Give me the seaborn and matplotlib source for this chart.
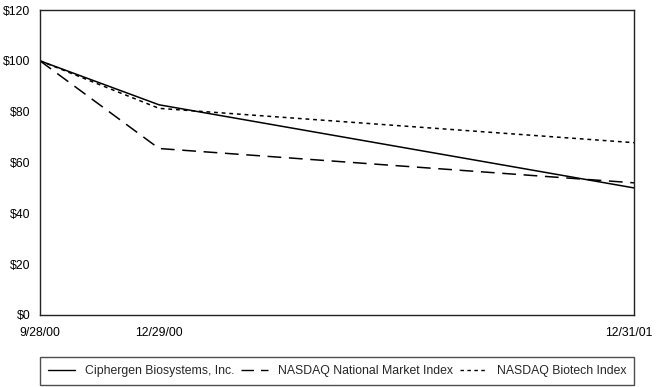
import pandas as pd
import matplotlib.pyplot as plt
import matplotlib.transforms as mtransforms
import seaborn as sns

sns.set_style('white')
plt.rcParams['font.family'] = ['Liberation Sans', 'DejaVu Sans']

# data
dates = pd.to_datetime(['2000-09-28', '2000-12-29', '2001-12-31'])
tick_labels = ['9/28/00', '12/29/00', '12/31/01']
ciphergen = [100, 82.7, 50.0]
nasdaq_nm = [100, 65.5, 52.0]
nasdaq_bio = [100, 81.3, 67.8]
series_names = ['Ciphergen Biosystems, Inc.', 'NASDAQ National Market Index', 'NASDAQ Biotech Index']

df = pd.DataFrame({
    'date': list(dates) * 3,
    'value': ciphergen + nasdaq_nm + nasdaq_bio,
    'series': [s for s in series_names for _ in dates],
})

fig = plt.figure(figsize=(6.57, 3.87), dpi=100)
ax = fig.add_axes([40/657, 72/387, 594/657, 305/387])

dash_styles = {series_names[0]: '', series_names[1]: (9, 5), series_names[2]: (2.5, 2.5)}
sns.lineplot(data=df, x='date', y='value', style='series', dashes=dash_styles,
             color='black', linewidth=1.1, ax=ax, legend=False)

ax.set_xlim(dates[0], dates[-1])
ax.set_ylim(0, 120)
ax.set_xticks(dates)
ax.set_xticklabels(tick_labels)
ax.set_yticks(range(0, 121, 20))
ax.set_yticklabels(['$' + str(v) for v in range(0, 121, 20)])
ax.tick_params(axis='both', length=0, labelsize=8.8, colors='black')
ax.tick_params(axis='x', pad=9)
ax.tick_params(axis='y', pad=7)
ax.set_xlabel('')
ax.set_ylabel('')
for sp in ax.spines.values():
    sp.set_color('#222222')
    sp.set_linewidth(1.0)

# nudge last x label left so it fits
last = ax.get_xticklabels()[-1]
last.set_transform(last.get_transform() + mtransforms.ScaledTranslation(-5/100, 0, fig.dpi_scale_trans))

# legend below
handles = [plt.Line2D([], [], color='black', lw=1.0, linestyle='-'),
           plt.Line2D([], [], color='black', lw=1.0, dashes=(9, 5)),
           plt.Line2D([], [], color='black', lw=1.0, dashes=(2.5, 2.5))]
leg = fig.legend(handles, series_names, loc='lower left',
                 bbox_to_anchor=(40/657, 2/387, 594/657, 31/387), mode='expand',
                 ncol=3, frameon=True, fancybox=False, fontsize=8.8,
                 handlelength=2.2, handletextpad=0.8, borderaxespad=0, borderpad=0.65)
leg.get_frame().set_edgecolor('#222222')
leg.get_frame().set_linewidth(1.0)

fig.savefig('out.png', dpi=100)
